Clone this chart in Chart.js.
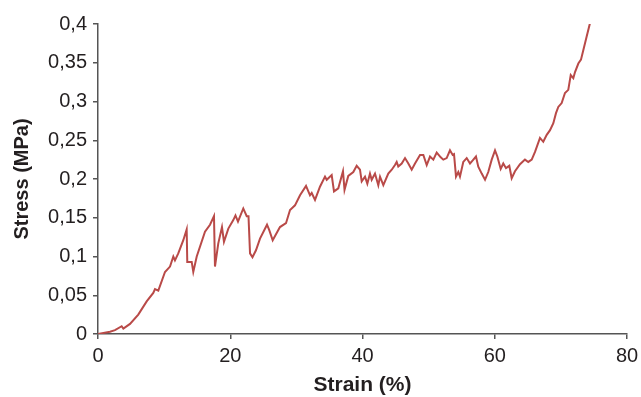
<!DOCTYPE html>
<html>
<head>
<meta charset="utf-8">
<script src="https://cdn.jsdelivr.net/npm/chart.js@4"></script>
<style>
  html, body { margin: 0; padding: 0; background: #fff; }
  #wrap { width: 641px; height: 397px; }
</style>
</head>
<body>
<div id="wrap"><canvas id="chart"></canvas></div>
<script>
// Strain (%) readings
const strain = [0, 1.81, 2.57, 3.58, 3.83, 4.84, 6.09, 7.36, 8.36, 8.62, 9.12, 10.13, 10.89, 11.39, 11.64, 12.14,
  12.9, 13.41, 13.5, 14.17, 14.41, 14.93, 16.18, 16.94, 17.54, 17.69, 18.19, 18.75, 19.05, 19.71, 20.46, 20.79,
  21.17, 21.97, 22.49, 22.76, 22.99, 23.36, 23.89, 24.5, 25.56, 25.9, 26.42, 27.52, 28.43, 29.04, 29.79, 30.55,
  31.46, 32.06, 32.32, 32.82, 33.57, 34.33, 34.59, 35.34, 35.69, 36.34, 37.05, 37.28, 37.85, 38.61, 39.12, 39.62,
  39.88, 40.38, 40.73, 41.13, 41.39, 41.89, 42.39, 42.65, 43.15, 43.9, 44.42, 44.91, 45.17, 45.41, 45.93, 46.43,
  46.93, 47.44, 47.94, 48.7, 49.2, 49.71, 50.21, 50.71, 51.22, 51.83, 52.22, 52.73, 53.23, 53.64, 53.84, 54.14,
  54.49, 54.74, 55.24, 55.76, 56.26, 56.67, 57.16, 57.51, 58.03, 58.53, 59.02, 59.54, 60.04, 60.39, 60.9, 61.29,
  61.7, 62.2, 62.56, 63.06, 63.82, 64.57, 65.07, 65.59, 66.09, 66.84, 67.34, 67.86, 68.36, 68.86, 69.26, 69.61,
  70.12, 70.62, 71.12, 71.49, 71.88, 72.14, 72.64, 73.04, 73.39, 73.9, 74.4];

// Stress (MPa) readings
const stress = [0, 0.003, 0.005, 0.010, 0.007, 0.013, 0.025, 0.042, 0.053, 0.058, 0.056, 0.080, 0.087, 0.100, 0.095, 0.104,
  0.121, 0.135, 0.093, 0.093, 0.080, 0.100, 0.132, 0.141, 0.152, 0.087, 0.117, 0.138, 0.119, 0.136, 0.147, 0.153,
  0.145, 0.162, 0.152, 0.152, 0.104, 0.099, 0.108, 0.123, 0.141, 0.134, 0.121, 0.138, 0.143, 0.160, 0.166, 0.179,
  0.191, 0.179, 0.182, 0.173, 0.190, 0.203, 0.199, 0.205, 0.184, 0.188, 0.210, 0.186, 0.204, 0.209, 0.217, 0.212,
  0.197, 0.203, 0.194, 0.207, 0.199, 0.207, 0.192, 0.203, 0.192, 0.207, 0.212, 0.218, 0.222, 0.216, 0.220, 0.227,
  0.220, 0.212, 0.220, 0.231, 0.231, 0.218, 0.229, 0.225, 0.234, 0.228, 0.225, 0.227, 0.237, 0.231, 0.232, 0.203,
  0.209, 0.203, 0.222, 0.227, 0.220, 0.224, 0.229, 0.216, 0.207, 0.199, 0.209, 0.225, 0.237, 0.229, 0.213, 0.220,
  0.214, 0.217, 0.201, 0.210, 0.219, 0.225, 0.222, 0.225, 0.235, 0.253, 0.248, 0.257, 0.263, 0.272, 0.285, 0.293,
  0.298, 0.311, 0.315, 0.334, 0.330, 0.338, 0.349, 0.354, 0.366, 0.384, 0.401];

const xTicks = [0, 20, 40, 60, 80];
const yTicks = [0, 0.05, 0.1, 0.15, 0.2, 0.25, 0.3, 0.35, 0.4];

const points = strain.map((x, i) => ({ x, y: stress[i] }));
const axisColor = '#555555';
const textColor = '#231f20';
const font = { family: '"Liberation Sans", Arial, sans-serif', size: 20 };

new Chart(document.getElementById('chart').getContext('2d'), {
    type: 'scatter',
    data: {
        datasets: [{
            data: points,
            showLine: true,
            borderColor: '#b94a48',
            borderWidth: 2,
            pointRadius: 0,
            tension: 0
        }]
    },
    options: {
        responsive: true,
        maintainAspectRatio: false,
        animation: false,
        layout: { padding: { left: 0, top: 24, right: 14, bottom: 0 } },
        plugins: { legend: { display: false }, tooltip: { enabled: false } },
        scales: {
            x: {
                type: 'linear',
                min: 0, max: 80,
                afterBuildTicks: s => { s.ticks = xTicks.map(v => ({ value: v })); },
                afterFit: s => { s.height = 63; s.paddingLeft = 0; s.paddingRight = 0; },
                grid: { drawOnChartArea: false, drawTicks: true, tickLength: 5, color: axisColor, lineWidth: 1.5 },
                border: { color: axisColor, width: 1.5 },
                ticks: { color: textColor, font, padding: 5, maxRotation: 0 },
                title: {
                    display: true, text: 'Strain (%)', color: textColor,
                    font: { ...font, size: 21, weight: 'bold' }, padding: { top: 0, bottom: -1 }
                }
            },
            y: {
                type: 'linear',
                min: 0, max: 0.4,
                afterBuildTicks: s => { s.ticks = yTicks.map(v => ({ value: v })); },
                afterFit: s => { s.width = 98; s.paddingTop = 0; s.paddingBottom = 0; },
                grid: { drawOnChartArea: false, drawTicks: true, tickLength: 5, color: axisColor, lineWidth: 1.5 },
                border: { color: axisColor, width: 1.5 },
                ticks: {
                    color: textColor, font, padding: 6,
                    callback: v => String(+v.toFixed(2)).replace('.', ',')
                },
                title: {
                    display: true, text: 'Stress (MPa)', color: textColor,
                    font: { ...font, weight: 'bold' }, padding: { top: 10, bottom: 0 }
                }
            }
        }
    }
});
</script>
</body>
</html>
